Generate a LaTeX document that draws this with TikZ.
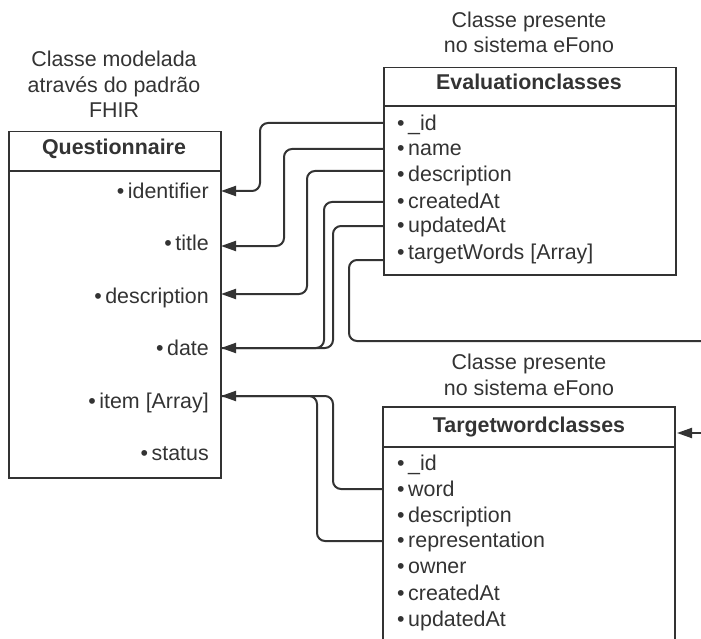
\documentclass[tikz,border=0pt]{standalone}
\usepackage{fontspec}
\setmainfont{Liberation Sans}
\usetikzlibrary{arrows.meta}
\definecolor{ink}{HTML}{333333}

\begin{document}
\begin{tikzpicture}[x=1pt, y=-1pt,
  font=\fontsize{21.4}{25.6}\selectfont, text=ink,
  box/.style={draw=ink, line width=1.5pt, inner sep=0pt},
  rule/.style={draw=ink, line width=1.5pt},
  title/.style={font=\fontsize{21.4}{25.6}\selectfont\bfseries, anchor=base, inner sep=0pt},
  caption/.style={align=center, anchor=base, inner sep=0pt},
  fieldl/.style={anchor=base west, inner sep=0pt},
  fieldr/.style={anchor=base east, inner sep=0pt},
  link/.style={draw=ink, line width=2pt, rounded corners=8pt},
  tip/.style={-{Triangle[length=15pt, width=10pt]}}
]
\useasboundingbox (0,0) rectangle (701,639);

% ---- captions above the classes (anchored on their last line)
\node[caption] (capq) at (114,118) {Classe modelada\\através do padrão\\FHIR};
\node[caption] (cape) at (529,53) {Classe presente\\no sistema eFono};
\node[caption] (capt) at (529,395) {Classe presente\\no sistema eFono};

% ---- Questionnaire (FHIR)
\node[box, minimum width=212, minimum height=346, anchor=north west] (quest) at (8,131) {};
\draw[rule] (8,171) -- (220,171);
\node[title] (questtitle) at (114,155) {Questionnaire};
\node[fieldr] (q-identifier) at (209,198) {•\,identifier};
\node[fieldr] (q-title)      at (209,250) {•\,title};
\node[fieldr] (q-description) at (209,303) {•\,description};
\node[fieldr] (q-date)       at (209,355) {•\,date};
\node[fieldr] (q-item)       at (209,408) {•\,item [Array]};
\node[fieldr] (q-status)     at (209,460) {•\,status};

% ---- Evaluationclasses
\node[box, minimum width=292, minimum height=207, anchor=north west] (eval) at (383,67) {};
\draw[rule] (383,106) -- (675,106);
\node[title] (evaltitle) at (529,90) {Evaluationclasses};
\node[fieldl] (e-id)          at (397,131) {•\,\_id};
\node[fieldl] (e-name)        at (397,156) {•\,name};
\node[fieldl] (e-description) at (397,182) {•\,description};
\node[fieldl] (e-created)     at (397,208) {•\,createdAt};
\node[fieldl] (e-updated)     at (397,233) {•\,updatedAt};
\node[fieldl] (e-targets)     at (397,259) {•\,targetWords [Array]};

% ---- Targetwordclasses (continues below the page edge)
\draw[rule] (383,639) -- (383,407) -- (675,407) -- (675,639);
\draw[rule] (383,447) -- (675,447);
\coordinate (tw) at (675,433);
\node[title] (twtitle) at (529,432) {Targetwordclasses};
\node[fieldl] (t-id)             at (397,470) {•\,\_id};
\node[fieldl] (t-word)           at (397,496) {•\,word};
\node[fieldl] (t-description)    at (397,522) {•\,description};
\node[fieldl] (t-representation) at (397,547) {•\,representation};
\node[fieldl] (t-owner)          at (397,573) {•\,owner};
\node[fieldl] (t-created)        at (397,600) {•\,createdAt};
\node[fieldl] (t-updated)        at (397,626) {•\,updatedAt};

% ---- ports on the class borders
\coordinate (pq-identifier)  at (221,191);
\coordinate (pq-title)       at (221,246);
\coordinate (pq-description) at (221,294);
\coordinate (pq-date)        at (221,348);
\coordinate (pq-item)        at (221,396);

\coordinate (pe-id)          at (383,123);
\coordinate (pe-name)        at (383,149);
\coordinate (pe-description) at (383,171);
\coordinate (pe-created)     at (383,202);
\coordinate (pe-updated)     at (383,226);
\coordinate (pe-targets)     at (383,260);

\coordinate (pt-word)           at (383,489);
\coordinate (pt-representation) at (383,541);

\coordinate (offright-a) at (703,341);
\coordinate (offright-b) at (703,433);

% ---- Evaluationclasses -> Questionnaire
\draw[link, tip] (pe-id) -| (260,191) -- (pq-identifier);
\draw[link, tip] (pe-name) -| (284,246) -- (pq-title);
\draw[link, tip] (pe-description) -| (307,294) -- (pq-description);
\draw[link, tip] (pe-created) -| (324,348) -- (pq-date);
\draw[link] (pe-updated) -| (333,348) -- (pq-date);

% ---- targetWords leaves to the right and returns to Targetwordclasses
\draw[link] (pe-targets) -| (349,341) -- (offright-a);
\draw[link, tip] (offright-b) -- ([xshift=2pt]tw);

% ---- Targetwordclasses -> item
\draw[link, tip] (pt-word) -| (333,396) -- (pq-item);
\draw[link] (pt-representation) -| (317,396) -- (pq-item);
\end{tikzpicture}
\end{document}
